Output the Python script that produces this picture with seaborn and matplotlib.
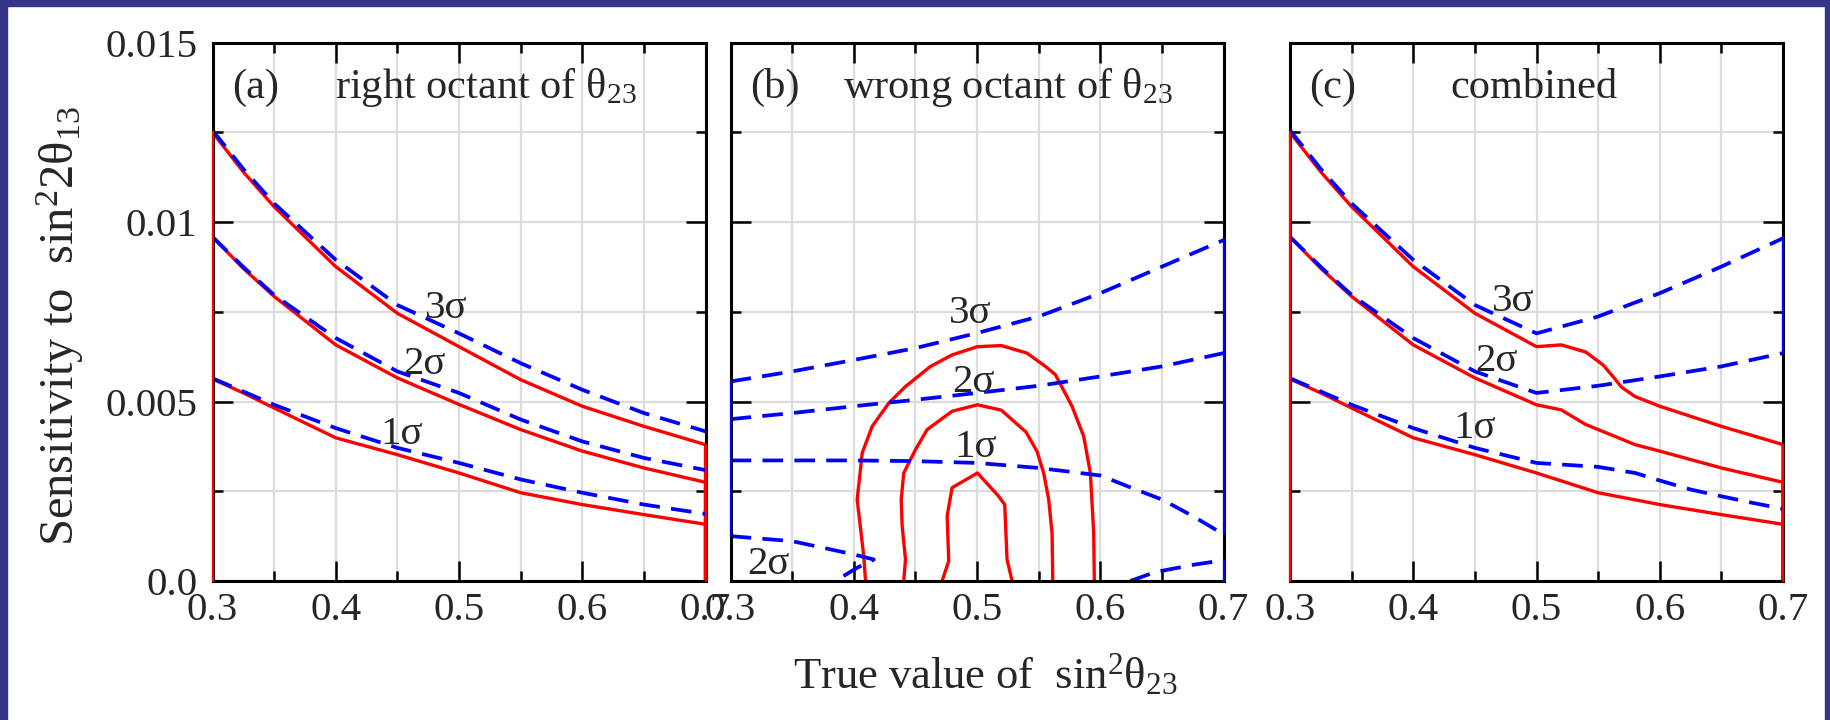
import matplotlib
matplotlib.use("Agg")
import matplotlib.pyplot as plt
import numpy as np
import pandas as pd
import seaborn as sns
from matplotlib.ticker import FixedLocator, FixedFormatter, MultipleLocator
from matplotlib.patches import Rectangle

# ---------------- data ----------------
xticks = [0.3, 0.4, 0.5, 0.6, 0.7]
xtick_labels = ["0.3", "0.4", "0.5", "0.6", "0.7"]
yticks = [0.0, 0.005, 0.01, 0.015]
ytick_labels = ["0.0", "0.005", "0.01", "0.015"]

# panel (a): right octant
xa = [0.30, 0.325, 0.35, 0.40, 0.45, 0.50, 0.55, 0.60, 0.65, 0.70]
a_red3 = [0.01250, 0.01140, 0.01043, 0.00876, 0.00746, 0.00653, 0.00561, 0.00487, 0.00431, 0.00380]
a_red2 = [0.00959, 0.00871, 0.00793, 0.00658, 0.00566, 0.00492, 0.00422, 0.00362, 0.00315, 0.00275]
a_red1 = [0.00563, 0.00524, 0.00482, 0.00399, 0.00352, 0.00301, 0.00246, 0.00213, 0.00185, 0.00158]
a_blue3 = [0.01256, 0.01148, 0.01052, 0.00895, 0.00769, 0.00690, 0.00607, 0.00533, 0.00468, 0.00417]
a_blue2 = [0.00959, 0.00875, 0.00797, 0.00677, 0.00584, 0.00524, 0.00450, 0.00389, 0.00343, 0.00309]
a_blue1 = [0.00565, 0.00528, 0.00491, 0.00426, 0.00371, 0.00329, 0.00283, 0.00246, 0.00213, 0.00187]

# panel (b): wrong octant
xb = [0.30, 0.35, 0.40, 0.45, 0.50, 0.55, 0.60, 0.65, 0.70]
b_blue3 = [0.00556, 0.00584, 0.00616, 0.00649, 0.00691, 0.00737, 0.00802, 0.00876, 0.00950]
b_blue2 = [0.00451, 0.00468, 0.00487, 0.00505, 0.00524, 0.00544, 0.00570, 0.00598, 0.00635]
xb1 = [0.30, 0.35, 0.40, 0.45, 0.50, 0.55, 0.60, 0.625, 0.65, 0.675, 0.70]
b_blue1 = [0.00336, 0.00336, 0.00336, 0.00334, 0.00329, 0.00315, 0.00294, 0.00260, 0.00227, 0.00181, 0.00130]
b_hook_x = [0.30, 0.35, 0.40, 0.4162, 0.4027, 0.385]
b_hook_y = [0.00125, 0.00111, 0.00074, 0.00060, 0.00037, 0.0]
b_br_x = [0.6243, 0.6284, 0.6446, 0.677, 0.70]
b_br_y = [0.0, 0.00005, 0.00025, 0.00046, 0.00058]

b_out_x = [0.4095, 0.408, 0.4027, 0.4068, 0.4149, 0.4284, 0.4419, 0.4622, 0.4797, 0.5003,
           0.5197, 0.5405, 0.5554, 0.5635, 0.577, 0.5865, 0.5919, 0.5946, 0.5951]
b_out_y = [0.0, 0.0007, 0.00227, 0.00357, 0.00431, 0.00496, 0.00542, 0.00598, 0.00630, 0.00653,
           0.00656, 0.00635, 0.00598, 0.00575, 0.00487, 0.00403, 0.00301, 0.00134, 0.0]
b_mid_x = [0.4405, 0.4419, 0.4392, 0.4384, 0.4405, 0.45, 0.4595, 0.4797, 0.5003, 0.5197,
           0.5397, 0.5486, 0.554, 0.5581, 0.5608, 0.5614]
b_mid_y = [0.0, 0.0006, 0.00153, 0.00227, 0.00301, 0.00366, 0.00422, 0.00473, 0.00491, 0.00476,
           0.00415, 0.00361, 0.00301, 0.00227, 0.00134, 0.0]
b_in_x = [0.4716, 0.477, 0.4757, 0.4797, 0.5003, 0.517, 0.5224, 0.5243, 0.5284]
b_in_y = [0.0, 0.00056, 0.00181, 0.0026, 0.00301, 0.00238, 0.00213, 0.0006, 0.0]

# panel (c): combined
xc3 = [0.30, 0.325, 0.35, 0.40, 0.45, 0.50, 0.52, 0.54, 0.554, 0.562, 0.569, 0.58, 0.60, 0.65, 0.70]
c_red3 = [0.0125, 0.0114, 0.01043, 0.00876, 0.00746, 0.00653, 0.00658, 0.00638, 0.00602, 0.00570,
          0.00540, 0.00514, 0.00487, 0.00431, 0.00380]
xc2 = [0.30, 0.325, 0.35, 0.40, 0.45, 0.50, 0.52, 0.54, 0.55, 0.58, 0.60, 0.65, 0.70]
c_red2 = [0.00959, 0.00871, 0.00793, 0.00658, 0.00566, 0.00491, 0.00477, 0.00436, 0.00422, 0.00380,
          0.00362, 0.00315, 0.00275]
xc1 = [0.30, 0.325, 0.35, 0.40, 0.45, 0.50, 0.55, 0.60, 0.65, 0.70]
c_red1 = [0.00563, 0.00524, 0.00482, 0.00399, 0.00352, 0.00301, 0.00246, 0.00213, 0.00185, 0.00158]
xcb = [0.30, 0.325, 0.35, 0.40, 0.45, 0.50, 0.55, 0.60, 0.65, 0.70]
c_blue3 = [0.01256, 0.01148, 0.01052, 0.00895, 0.00769, 0.00690, 0.00737, 0.00802, 0.00876, 0.00955]
c_blue2 = [0.00959, 0.00875, 0.00797, 0.00677, 0.00584, 0.00524, 0.00544, 0.00570, 0.00598, 0.00635]
xcb1 = [0.30, 0.325, 0.35, 0.40, 0.45, 0.50, 0.55, 0.58, 0.60, 0.625, 0.65, 0.675, 0.70]
c_blue1 = [0.00565, 0.00528, 0.00491, 0.00426, 0.00371, 0.00329, 0.00318, 0.00301, 0.00280, 0.00255,
           0.00236, 0.00218, 0.00201]

# ---------------- style ----------------
sns.set_theme(style="ticks")
plt.rcParams["font.family"] = ["Liberation Serif", "DejaVu Serif"]
plt.rcParams["mathtext.fontset"] = "custom"
plt.rcParams["mathtext.rm"] = "Liberation Serif"
plt.rcParams["mathtext.it"] = "Liberation Serif:italic"
plt.rcParams["mathtext.bf"] = "Liberation Serif:bold"

RED = "#ff0000"
BLUE = "#0000ff"
NAVY = "#35358a"
LW_RED = 2.4
LW_BLUE = 2.7
DASH = (0, (5.5, 3.0))

fig = plt.figure(figsize=(18.3, 7.2), dpi=100)
fig.patch.set_facecolor("white")

# navy frame (left, top, right)
fig.add_artist(Rectangle((0, 0), 7 / 1830, 1, transform=fig.transFigure, color=NAVY, zorder=0))
fig.add_artist(Rectangle((0, 1 - 6 / 720), 1, 6 / 720, transform=fig.transFigure, color=NAVY, zorder=0))
fig.add_artist(Rectangle((1 - 5 / 1830, 0), 5 / 1830, 1, transform=fig.transFigure, color=NAVY, zorder=0))

W = 493 / 1830
H = 538.3 / 720
B = 1 - 581 / 720
lefts = [212.5 / 1830, 730.6 / 1830, 1290 / 1830]
axes = [fig.add_axes([l, B, W, H]) for l in lefts]


def curve(ax, x, y, color, dashed=False, close=False):
    x = list(x)
    y = list(y)
    if close:
        x = [x[0]] + x + [x[-1]]
        y = [0.0] + y + [0.0]
    df = pd.DataFrame({"x": x, "y": y})
    if dashed:
        sns.lineplot(data=df, x="x", y="y", sort=False, estimator=None, color=color,
                     lw=LW_BLUE, ax=ax, zorder=4, linestyle=DASH)
    else:
        sns.lineplot(data=df, x="x", y="y", sort=False, estimator=None, color=color,
                     lw=LW_RED, ax=ax, zorder=3)


def edge(ax, x, y0, y1, color):
    # contour closing along a frame edge (drawn over the spine, as in the reference)
    df = pd.DataFrame({"x": [x, x], "y": [y0, y1]})
    sns.lineplot(data=df, x="x", y="y", sort=False, estimator=None, color=color,
                 lw=1.6, ax=ax, zorder=7, clip_on=False)


for i, ax in enumerate(axes):
    ax.set_xlim(0.3, 0.7)
    ax.set_ylim(0.0, 0.015)
    ax.xaxis.set_major_locator(FixedLocator(xticks))
    ax.xaxis.set_major_formatter(FixedFormatter(xtick_labels))
    ax.xaxis.set_minor_locator(MultipleLocator(0.05))
    ax.yaxis.set_major_locator(FixedLocator(yticks))
    ax.yaxis.set_major_formatter(FixedFormatter(ytick_labels))
    ax.yaxis.set_minor_locator(MultipleLocator(0.0025))
    ax.tick_params(which="both", direction="in", top=True, right=True, width=1.8, color="black")
    ax.tick_params(which="major", length=14.5)
    ax.tick_params(which="minor", length=7.5)
    ax.tick_params(axis="x", labelsize=29.5, pad=8)
    ax.tick_params(axis="y", labelsize=29.5, pad=11)
    if i > 0:
        ax.tick_params(axis="y", labelleft=False)
    ax.grid(which="both", color="#dcdcdc", lw=1.6)
    ax.set_axisbelow(True)
    for s in ax.spines.values():
        s.set_linewidth(2.2)
        s.set_color("black")
        s.set_zorder(6)

axa, axb, axc = axes

# panel (a)
for yv in (a_red3, a_red2, a_red1):
    curve(axa, xa, yv, RED, close=True)
for yv in (a_blue3, a_blue2, a_blue1):
    curve(axa, xa, yv, BLUE, dashed=True)
edge(axa, xa[0], 0.0, a_red3[0], RED)
edge(axa, xa[-1], 0.0, a_red3[-1], RED)

# panel (b)
curve(axb, xb, b_blue3, BLUE, dashed=True)
curve(axb, xb, b_blue2, BLUE, dashed=True)
curve(axb, xb1, b_blue1, BLUE, dashed=True)
curve(axb, b_hook_x, b_hook_y, BLUE, dashed=True)
curve(axb, b_br_x, b_br_y, BLUE, dashed=True)
curve(axb, b_out_x, b_out_y, RED)
curve(axb, b_mid_x, b_mid_y, RED)
curve(axb, b_in_x, b_in_y, RED)
edge(axb, xb[-1], b_blue1[-1], b_blue3[-1], BLUE)
edge(axb, xb[-1], 0.0, b_br_y[-1], BLUE)
edge(axb, xb[0], b_hook_y[0], b_blue3[0], BLUE)

# panel (c)
curve(axc, xc3, c_red3, RED, close=True)
curve(axc, xc2, c_red2, RED, close=True)
curve(axc, xc1, c_red1, RED, close=True)
curve(axc, xcb, c_blue3, BLUE, dashed=True)
curve(axc, xcb, c_blue2, BLUE, dashed=True)
curve(axc, xcb1, c_blue1, BLUE, dashed=True)
edge(axc, xc3[0], 0.0, c_red3[0], RED)
edge(axc, xc3[-1], 0.0, c_red3[-1], RED)
edge(axc, xcb[-1], c_blue2[-1], c_blue3[-1], BLUE)

for ax in axes:
    ax.set_xlabel("")
    ax.set_ylabel("")

# panel titles
TY = 0.897
TF = 30.5
axa.text(0.0396, TY, "(a)", transform=axa.transAxes, fontsize=TF, va="baseline")
axa.text(0.2485, TY, r"right octant of $\mathregular{θ_{23}}$", transform=axa.transAxes,
         fontsize=TF, va="baseline")
axb.text(0.0393, TY, "(b)", transform=axb.transAxes, fontsize=TF, va="baseline")
axb.text(0.2288, TY, r"wrong octant of $\mathregular{θ_{23}}$", transform=axb.transAxes,
         fontsize=TF, va="baseline")
axc.text(0.0385, TY, "(c)", transform=axc.transAxes, fontsize=TF, va="baseline")
axc.text(0.3245, TY, "combined", transform=axc.transAxes, fontsize=TF, va="baseline")

# sigma labels
SF = 29.5
for ax, pts in (
    (axa, [(0.490, 0.0076, "3σ"), (0.4724, 0.00603, "2σ"), (0.4535, 0.00408, "1σ")]),
    (axb, [(0.4946, 0.00746, "3σ"), (0.4973, 0.00552, "2σ"), (0.4986, 0.00371, "1σ"),
           (0.3311, 0.00046, "2σ")]),
    (axc, [(0.4811, 0.00779, "3σ"), (0.4676, 0.00612, "2σ"), (0.4500, 0.00426, "1σ")]),
):
    for x, y, s in pts:
        ax.text(x, y, s, fontsize=SF, ha="center", va="center", zorder=8)

# axis labels
fig.text(60 / 1830, 1 - 326 / 720, r"Sensitivity to  $\mathregular{sin^{2}2θ_{13}}$",
         rotation=90, ha="center", va="center", fontsize=35)
fig.text(985 / 1830, 1 - 688 / 720, r"True value of  $\mathregular{sin^{2}θ_{23}}$",
         ha="center", va="baseline", fontsize=32)

fig.savefig("out.png", dpi=100, facecolor="white")
